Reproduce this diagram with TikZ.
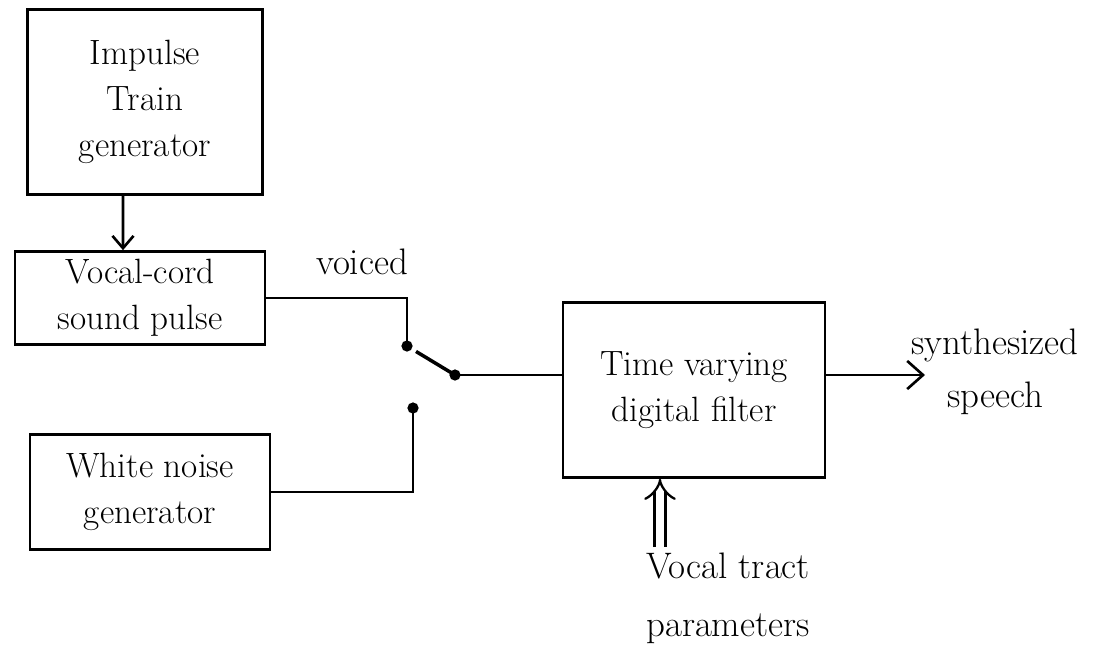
\documentclass[tikz,border=0pt]{standalone}
\usetikzlibrary{arrows.meta}
\begin{document}
\begin{tikzpicture}[x=0.02cm, y=-0.02cm,
    block/.style={draw, line width=1.5pt, align=center, inner sep=0pt,
        font=\fontsize{20}{26}\selectfont},
    wire/.style={line width=1.5pt},
    tag/.style={align=center, inner sep=0pt, font=\fontsize{21}{30}\selectfont}]
    \useasboundingbox (0,0) rectangle (1105,667);
    % source blocks
    \node[block, minimum width=4.7cm, minimum height=3.7cm] (imp)
        at (145,102) {Impulse\\Train\\generator};
    \node[block, minimum width=5cm, minimum height=1.86cm] (cord)
        at (140,298) {Vocal-cord\\sound pulse};
    \node[block, minimum width=4.8cm, minimum height=2.3cm] (noise)
        at (150,492) {White noise\\generator};
    \node[block, minimum width=5.24cm, minimum height=3.5cm] (filter)
        at (694,390) {Time varying\\digital filter};
    % switch contacts
    \coordinate (sv) at (407,346);
    \coordinate (sn) at (413,408);
    \coordinate (sc) at (455,375);
    \coordinate (out) at (925,375);
    \coordinate (par) at (660,547);
    \draw[wire, -{Straight Barb[length=7pt, width=12pt]}]
        ([xshift=-0.44cm]imp.south) -- ([xshift=-0.34cm]cord.north);
    \draw[wire] (cord.east) -| (sv);
    \draw[wire] (noise.east) -| (sn);
    \draw[wire, line width=2pt, shorten <=6pt] (sv) -- (sc);
    \draw[wire] (sc) -- (filter.west |- sc);
    \fill (sv) circle (3.2pt) (sn) circle (3.2pt) (sc) circle (3.2pt);
    \draw[wire, -{Straight Barb[length=9pt, width=16pt]}] (filter.east |- out) -- (out);
    \draw[line width=1.3pt, double, double distance=5pt,
        -{Implies[length=8pt]}] (par) -- (par |- filter.south);
    % labels
    \node[tag] (voiced) at (362,262) {voiced};
    \node[tag] (synth) at (995,372) {synthesized\\speech};
    \node[tag, font=\fontsize{21}{33}\selectfont] (vtp) at (728,598)
        {Vocal tract\\parameters};
\end{tikzpicture}
\end{document}
